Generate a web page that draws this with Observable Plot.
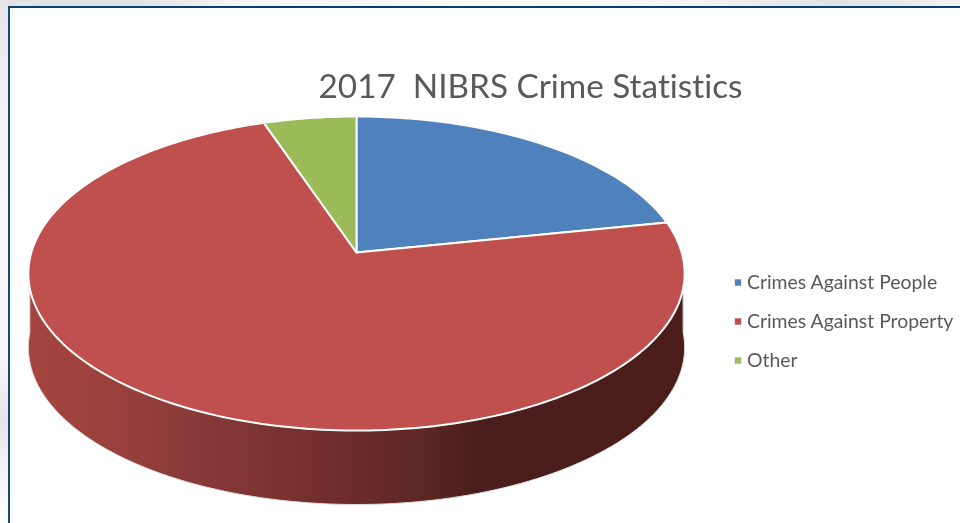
<!DOCTYPE html>
<html>
<head>
<meta charset="utf-8">
<script src="https://cdn.jsdelivr.net/npm/d3@7"></script>
<script src="https://cdn.jsdelivr.net/npm/@observablehq/plot@0.6"></script>
<style>
  html, body { margin: 0; padding: 0; background: #fff; overflow: hidden; }
  #page { position: relative; width: 960px; height: 523px; overflow: hidden; background: #fff; }
  #bandTop { position: absolute; left: 0; top: 0; width: 960px; height: 7px;
    background: linear-gradient(90deg, #e4e4e4 0%, #e2e2e2 14%, #ededed 20%, #f8f8f8 27%, #f6f6f6 36%, #fdfdfd 50%, #fafafa 62%, #f2f2f2 74%, #e3e3e3 86%, #e8e8e8 93%, #f3f3f3 100%); }
  #bandLeft { position: absolute; left: 0; top: 0; width: 8px; height: 523px;
    background: linear-gradient(180deg, #e6e6e6 0%, #f0f0f0 16%, #fafafa 40%, #f7f7f7 68%, #e6e6e6 80%, #f0f0f0 87%, #fdfdfd 96%, #ffffff 100%); }
  #edge { position: absolute; left: 7.5px; top: 6px; width: 960px; height: 530px;
    border-top: 2.5px solid #04436f; border-left: 2.5px solid #0d5080; }
  #chart { position: absolute; left: 0; top: 0; }
  #chart text { font-variant-ligatures: none; font-feature-settings: "liga" 0, "clig" 0; }
  #chart svg { filter: blur(0.35px); }
</style>
</head>
<body>
<div id="page">
  <div id="bandTop"></div>
  <div id="bandLeft"></div>
  <div id="edge"></div>
  <div id="chart"></div>
</div>
<script>
const chartTitle = "2017  NIBRS Crime Statistics";
const categories = ["Crimes Against People", "Crimes Against Property", "Other"];
const shares = [21.8, 73.0, 5.2];
const sliceColors = ["#4f81bd", "#c0504d", "#9bbb59"];
const sideStops = [[0, "#a5453f"], [0.12, "#9a413d"], [0.26, "#873a38"], [0.47, "#702d2b"], [0.6, "#5c2725"], [0.69, "#4a1e1c"], [1, "#4a1d1b"]];

// Tilted-disc projection of the pie
const cx = 356, cy = 252, tilt = 0.1338, rx = 325.2, ry = 154.2, depth = 74;
function project(angle, drop = 0) {
  const u = Math.cos(angle), s = Math.sin(angle), w = 1 + tilt * u;
  return {px: cx + rx * s / w, py: cy - ry * u / w + drop};
}

// Slice outlines derived from the shares
const total = d3.sum(shares);
const slices = [];
let start = 0;
categories.forEach((category, i) => {
  const sweep = shares[i] / total * 2 * Math.PI;
  const steps = Math.max(8, Math.ceil(shares[i] * 3));
  slices.push({category, px: cx, py: cy});
  for (let k = 0; k <= steps; k++) slices.push({category, ...project(start + sweep * k / steps)});
  slices.push({category, px: cx, py: cy});
  start += sweep;
});

// Side wall: lower half of the dropped rim, closed along the upper rim
const sideSteps = d3.range(0, 121).map(k => Math.PI * 0.5 + 0.04 + (Math.PI - 0.08) * k / 120);
const wall = [
  ...sideSteps.map(a => project(a, depth)),
  ...sideSteps.slice().reverse().map(a => project(a, 0))
];

const gradient = () => {
  const defs = d3.create("svg:defs");
  const g = defs.append("linearGradient").attr("id", "sideShade")
    .attr("x1", "0").attr("x2", "1").attr("y1", "0").attr("y2", "0");
  sideStops.forEach(([o, c]) => g.append("stop").attr("offset", o).attr("stop-color", c));
  return defs.node();
};

const fontFamily = "Lato, Carlito, 'Open Sans', sans-serif";
const plot = Plot.plot({
  width: 960,
  height: 523,
  margin: 0,
  style: {background: "transparent", fontFamily},
  x: {domain: [0, 960], range: [0, 960], axis: null},
  y: {domain: [0, 523], range: [0, 523], axis: null},
  color: {domain: categories, range: sliceColors},
  marks: [
    gradient,
    Plot.line(wall, {x: "px", y: "py", fill: "url(#sideShade)", stroke: "#e2dede", strokeWidth: 1, curve: "linear-closed"}),
    Plot.line(slices, {x: "px", y: "py", z: "category", fill: "category", stroke: "white", strokeWidth: 2, strokeLinejoin: "round"}),
    Plot.text([chartTitle], {x: 530, y: 87, text: d => d, fontSize: 33.3, fill: "#595959", textAnchor: "middle", lineAnchor: "middle"}),
    Plot.dot(categories, {x: 737.5, y: (d, i) => 282 + i * 39, fill: d => d, symbol: "square", r: 3.6, stroke: "none"}),
    Plot.text(categories, {x: 746.5, y: (d, i) => 282 + i * 39, text: d => d, fontSize: 19.4, fill: "#595959", textAnchor: "start", lineAnchor: "middle"})
  ]
});
document.getElementById("chart").appendChild(plot);
</script>
</body>
</html>
